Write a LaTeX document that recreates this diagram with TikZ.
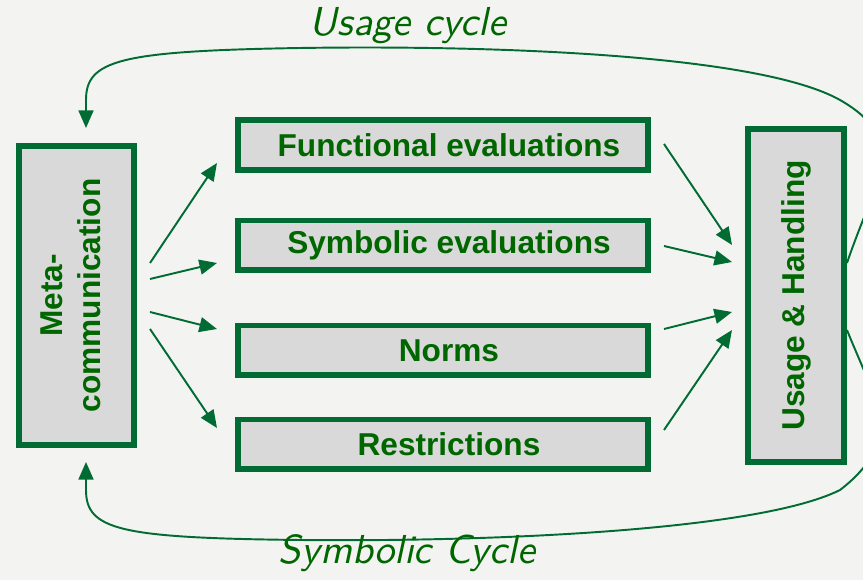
\documentclass[tikz,border=0pt]{standalone}
\usepackage{fontspec}
\newfontfamily\boxfont{Liberation Sans}
\newfontfamily\cycfont{lmsans10-oblique.otf}
\usetikzlibrary{arrows.meta}
\definecolor{dgreen}{RGB}{0,107,51}
\definecolor{tgreen}{RGB}{0,102,0}
\definecolor{boxgray}{RGB}{217,217,217}
\definecolor{bggray}{RGB}{243,243,241}

\begin{document}
\begin{tikzpicture}[x=0.02cm,y=-0.02cm,
		box/.style={draw=dgreen,fill=boxgray,line width=0.12cm,text=tgreen,font=\boxfont\bfseries\fontsize{18}{21.5}\selectfont,minimum width=8.2cm,minimum height=1cm,inner sep=0pt},
		hbox/.style={box,execute at begin node=\hspace*{0.24cm}},
		vbox/.style={box,rotate=90,align=center},
		arr/.style={dgreen,line width=1.1pt,-{Triangle[length=10pt,width=8.5pt]}},
		lbl/.style={text=tgreen,font=\cycfont\fontsize{23}{27}\selectfont}]
		\useasboundingbox (0,0) rectangle (863,580);
		\fill [bggray] (0,0) rectangle (863,580);
		\clip (0,0) rectangle (863,580);
		% the four middle boxes
		\node [hbox] (func) at (443,145) {Functional evaluations};
		\node [hbox] (symb) at (443,245.5) {Symbolic evaluations};
		\node [hbox] (norms) at (443,350.5) {Norms};
		\node [hbox] (restr) at (443,444.5) {Restrictions};
		% the two upright boxes
		\node [vbox,minimum width=5.98cm,minimum height=2.3cm,text depth=6.8pt] (meta) at (76.5,295.5) {Meta-\\communication};
		\node [vbox,minimum width=6.66cm,minimum height=1.92cm] (usage) at (796,295.5) {Usage \& Handling};
		% fans of arrows
		\foreach \i/\ya/\yb in {1/263/163,2/279/263,3/312/329,4/329/428} {
			\coordinate (ml\i) at (150,\ya);
			\coordinate (bl\i) at (217,\yb);
			\draw [arr] (ml\i) -- (bl\i);
		}
		\foreach \i/\ya/\yb in {1/144/245,2/246/262,3/329/312,4/430/330} {
			\coordinate (br\i) at (664,\ya);
			\coordinate (ul\i) at (732,\yb);
			\draw [arr] (br\i) -- (ul\i);
		}
		% the two cycles
		\coordinate (mtop) at (86,128);
		\coordinate (mbot) at (86,462);
		\draw [arr] ([yshift=0.65cm]usage.south) .. controls (875,180) and (910,140) .. (840,100)
			.. controls (760,55) and (500,45) .. (300,48)
			.. controls (120,51) and (86,60) .. (86,100) -- (mtop);
		\draw [arr] ([yshift=-0.69cm]usage.south) .. controls (875,400) and (905,440) .. (840,490)
			.. controls (760,530) and (500,542) .. (300,540)
			.. controls (120,538) and (86,530) .. (86,490) -- (mbot);
		\node [lbl,anchor=base] (ucyc) at (408,36) {Usage cycle};
		\node [lbl,anchor=base] (scyc) at (407,564) {Symbolic Cycle};
	\end{tikzpicture}
\end{document}
